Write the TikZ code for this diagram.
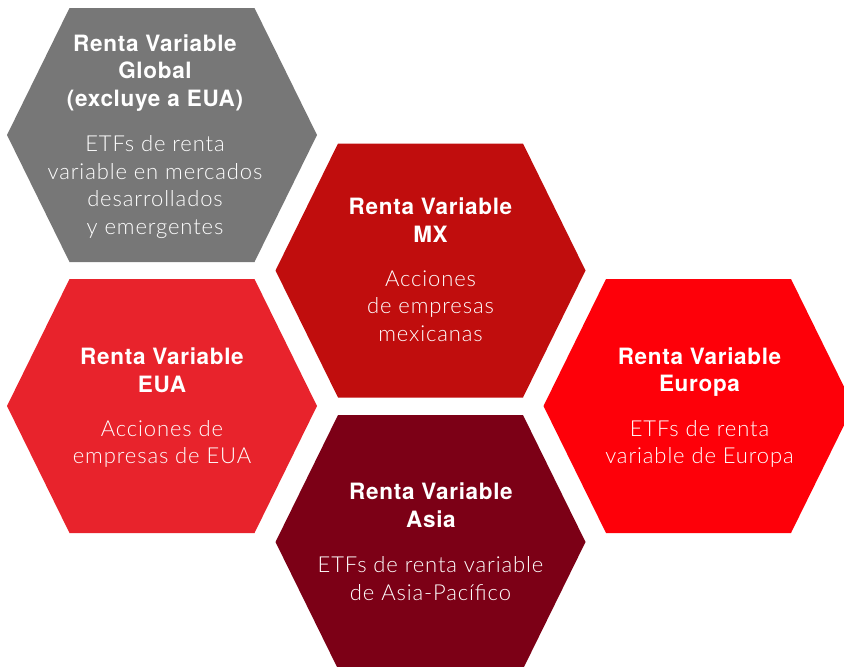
\documentclass[tikz,border=0pt]{standalone}
\usepackage{fontspec}
\setmainfont{TeX Gyre Heros}
\newfontfamily\titlefamily[LetterSpace=3]{TeX Gyre Heros}
\newfontfamily\bodyfamily[LetterSpace=4]{Lato Light}
\definecolor{hgray}{HTML}{777777}
\definecolor{hmx}{HTML}{C00D0D}
\definecolor{heua}{HTML}{E8232C}
\definecolor{heur}{HTML}{FE0009}
\definecolor{hasia}{HTML}{7C0016}
\tikzset{
  hexfill/.style={fill=#1},
  ttl/.style={font=\titlefamily\bfseries\fontsize{22.5}{26}\selectfont, text=white, anchor=base, inner sep=0pt},
  bdy/.style={font=\bodyfamily\fontsize{22}{26}\selectfont, text=white, anchor=base, inner sep=0pt},
}
\newcommand\hexpath{(-155,0) -- (-92.5,-127) -- (92.5,-127) -- (155,0) -- (92.5,127) -- (-92.5,127) -- cycle}
\begin{document}
\begin{tikzpicture}[x=1pt,y=-1pt]
\useasboundingbox (0,0) rectangle (844,667);
\begin{scope}
\clip (0,0) rectangle (844,667);
\coordinate (cg) at (162,135);
\coordinate (cm) at (430.5,270.5);
\coordinate (ce) at (162,406);
\coordinate (cu) at (698.5,406);
\coordinate (ca) at (430.5,542);
\fill[hexfill=hgray, shift={(cg)}] \hexpath;
\fill[hexfill=hmx, shift={(cm)}] \hexpath;
\fill[hexfill=heua, shift={(ce)}] \hexpath;
\fill[hexfill=heur, shift={(cu)}] \hexpath;
\fill[hexfill=hasia, shift={(ca)}] \hexpath;
\end{scope}
% Global
\node[ttl] (g1) at (155,51) {Renta Variable};
\node[ttl] (g2) at (155,78.5) {Global};
\node[ttl] (g3) at (155,106) {(excluye a EUA)};
\node[bdy] (g4) at (155,151) {ETFs de renta};
\node[bdy] (g5) at (155,179) {variable en mercados};
\node[bdy] (g6) at (155,206.5) {desarrollados};
\node[bdy] (g7) at (155,234) {y emergentes};
% MX
\node[ttl] (m1) at (430.5,214.5) {Renta Variable};
\node[ttl] (m2) at (430.5,242) {MX};
\node[bdy] (m3) at (430.5,286) {Acciones};
\node[bdy] (m4) at (430.5,313.5) {de empresas};
\node[bdy] (m5) at (430.5,341.5) {mexicanas};
% EUA
\node[ttl] (e1) at (162,364.5) {Renta Variable};
\node[ttl] (e2) at (162,392) {EUA};
\node[bdy] (e3) at (162,436) {Acciones de};
\node[bdy] (e4) at (162,463.5) {empresas de EUA};
% Europa
\node[ttl] (u1) at (699.5,364) {Renta Variable};
\node[ttl] (u2) at (699.5,391.5) {Europa};
\node[bdy] (u3) at (699.5,436) {ETFs de renta};
\node[bdy] (u4) at (699.5,463.5) {variable de Europa};
% Asia
\node[ttl] (a1) at (431,499) {Renta Variable};
\node[ttl] (a2) at (431,527) {Asia};
\node[bdy] (a3) at (430.5,572) {ETFs de renta variable};
\node[bdy] (a4) at (430.5,600) {de Asia-Pacífico};
\end{tikzpicture}
\end{document}
